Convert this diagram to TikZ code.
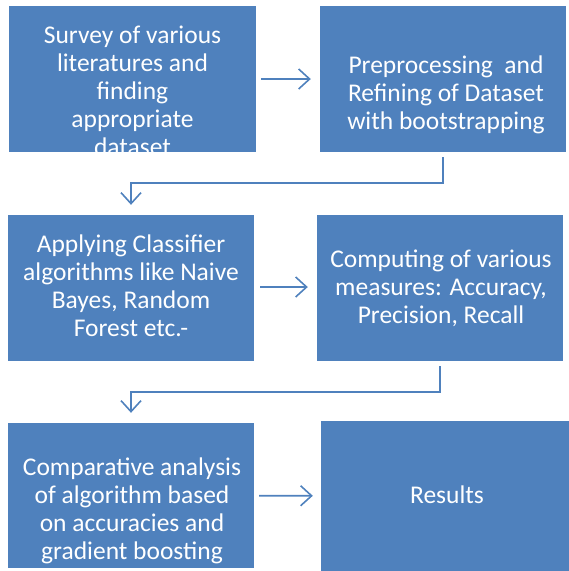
\documentclass[tikz,border=0pt]{standalone}
\usepackage{fontspec}
\setmainfont{Carlito}
\usetikzlibrary{arrows.meta}
\definecolor{boxblue}{HTML}{4F81BD}
\tikzset{
  box/.style={draw=none, fill=boxblue, inner sep=0pt, rectangle},
  boxtext/.style={text=white, align=center, anchor=north, inner sep=0pt,
    font=\fontsize{25.5}{28}\selectfont},
  conn/.style={draw=boxblue, line width=1.6pt,
    -{Straight Barb[length=11pt,width=20pt,line width=1.6pt]}}
}
\begin{document}
\begin{tikzpicture}[x=1pt,y=-1pt]
\useasboundingbox (0,0) rectangle (569,571);
% boxes
\node[box, minimum width=247pt, minimum height=146pt] (b1) at (132.5,79) {};
\node[box, minimum width=246pt, minimum height=146pt] (b2) at (443,79) {};
\node[box, minimum width=246pt, minimum height=146pt] (b3) at (131,288) {};
\node[box, minimum width=246pt, minimum height=146pt] (b4) at (440,288) {};
\node[box, minimum width=246pt, minimum height=145pt] (b5) at (131,495.5) {};
\node[box, minimum width=248pt, minimum height=150pt] (b6) at (445,496) {};
% texts
\node[boxtext] (t1) at (132.5,23) {\rule{0pt}{20pt}Survey of various\\literatures and\\finding\\appropriate\\dataset};
\node[boxtext] (t2) at (446,53) {\rule{0pt}{20pt}Preprocessing\ \ and\\Refining of Dataset\\with bootstrapping};
\node[boxtext] (t3) at (131,232) {\rule{0pt}{20pt}Applying Classifier\\algorithms like Naive\\Bayes, Random\\Forest etc.-};
\node[boxtext] (t4) at (441,247) {\rule{0pt}{20pt}Computing of various\\measures: Accuracy,\\Precision, Recall};
\node[boxtext] (t5) at (132,455) {\rule{0pt}{20pt}Comparative analysis\\of algorithm based\\on accuracies and\\gradient boosting};
\node[boxtext] (t6) at (447,483) {\rule{0pt}{20pt}Results};
% elbow coordinates
\coordinate (k1) at (443,183);
\coordinate (k2) at (131,183);
\coordinate (k3) at (440,392);
\coordinate (k4) at (131,392);
% connectors
\draw[conn, shorten <=5pt, shorten >=9pt] (b1) -- (b2);
\draw[conn, shorten <=6pt, shorten >=9pt] ([yshift=1pt]b3.east) -- ([yshift=1pt]b4.west);
\draw[conn, shorten <=5pt, shorten >=8pt] (b5) -- (b6);
\draw[conn, shorten <=5pt, shorten >=10pt] (b2.south) -- (k1) -- (k2) -- (b3.north);
\draw[conn, shorten <=5pt, shorten >=10pt] (b4.south) -- (k3) -- (k4) -- (b5.north);
\end{tikzpicture}
\end{document}
